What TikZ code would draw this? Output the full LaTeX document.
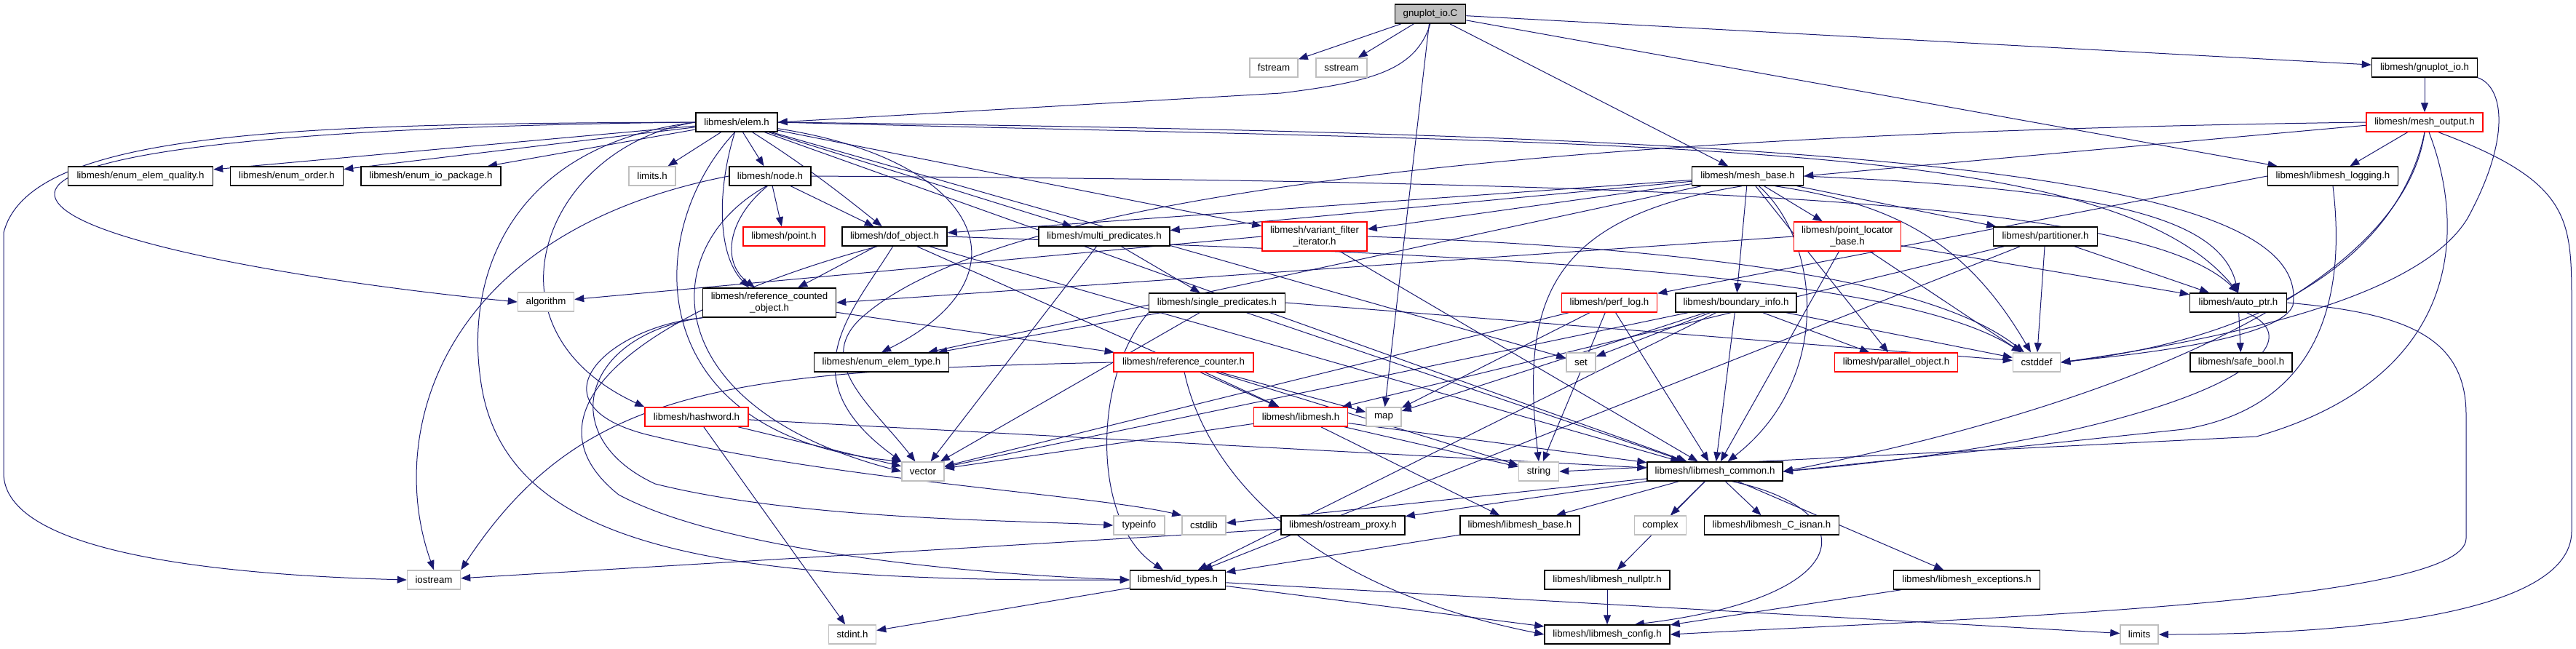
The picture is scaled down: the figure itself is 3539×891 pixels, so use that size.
\documentclass[tikz,border=0pt]{standalone}
\usepackage{fontspec}
\setmainfont{Liberation Sans}
\usetikzlibrary{arrows.meta}
\pgfdeclarelayer{edges}
\pgfsetlayers{edges,main}
\definecolor{edgec}{HTML}{191970}
\definecolor{grayb}{HTML}{BFBFBF}
\tikzset{
  box/.style={draw=black, line width=0.75pt, fill=white, minimum height=13pt, inner xsep=0pt, inner ysep=0pt, font=\fontsize{6.65pt}{7.6pt}\selectfont, align=center},
  rbox/.style={box, draw=red},
  gbox/.style={box, draw=grayb},
  rootb/.style={box, fill=grayb},
  tallbox/.style={minimum height=20pt},
  e/.style={draw=edgec, line width=0.5pt, -{Triangle[length=6.5pt,width=5pt]}}
}
\begin{document}
\begin{tikzpicture}[x=0.5pt,y=-0.5pt]
\useasboundingbox (0,0) rectangle (3539,891);
% nodes
\node[rootb, minimum width=48.5pt] (root) at (1965,19) {gnuplot\_io.C};
\node[gbox, minimum width=33pt] (fstream) at (1750,93) {fstream};
\node[gbox, minimum width=35pt] (sstream) at (1843,93) {sstream};
\node[box, minimum width=72.5pt] (gnuploth) at (3331,93) {libmesh/gnuplot\_io.h};
\node[box, minimum width=56pt] (elem) at (1012,168) {libmesh/elem.h};
\node[rbox, minimum width=80pt] (meshout) at (3331,168) {libmesh/mesh\_output.h};
\node[box, minimum width=99.5pt] (eq) at (193,242) {libmesh/enum\_elem\_quality.h};
\node[box, minimum width=77.5pt] (eo) at (394,242) {libmesh/enum\_order.h};
\node[box, minimum width=96pt] (eio) at (592,242) {libmesh/enum\_io\_package.h};
\node[gbox, minimum width=32pt] (limitsh) at (896,242) {limits.h};
\node[box, minimum width=56pt] (node) at (1058,242) {libmesh/node.h};
\node[box, minimum width=76.5pt] (meshbase) at (2401,242) {libmesh/mesh\_base.h};
\node[box, minimum width=89.5pt] (logging) at (3205,242) {libmesh/libmesh\_logging.h};
\node[rbox, minimum width=56pt] (point) at (1077,325) {libmesh/point.h};
\node[box, minimum width=72pt] (dof) at (1229,325) {libmesh/dof\_object.h};
\node[box, minimum width=90pt] (multi) at (1517,325) {libmesh/multi\_predicates.h};
\node[rbox, tallbox, minimum width=72pt] (variant) at (1806,325) {libmesh/variant\_filter\\\_iterator.h};
\node[rbox, tallbox, minimum width=73.5pt] (ploc) at (2538,325) {libmesh/point\_locator\\\_base.h};
\node[box, minimum width=71.5pt] (part) at (2810,325) {libmesh/partitioner.h};
\node[gbox, minimum width=38.5pt] (algorithm) at (750,415) {algorithm};
\node[box, tallbox, minimum width=91.5pt] (rco) at (1057,416) {libmesh/reference\_counted\\\_object.h};
\node[box, minimum width=93.5pt] (single) at (1672,416) {libmesh/single\_predicates.h};
\node[rbox, minimum width=65.5pt] (perf) at (2211,416) {libmesh/perf\_log.h};
\node[box, minimum width=83pt] (binfo) at (2385,416) {libmesh/boundary\_info.h};
\node[box, minimum width=66.5pt] (autoptr) at (3075,416) {libmesh/auto\_ptr.h};
\node[box, minimum width=92.5pt] (etype) at (1211,498) {libmesh/enum\_elem\_type.h};
\node[rbox, minimum width=96pt] (refcounter) at (1626,498) {libmesh/reference\_counter.h};
\node[gbox, minimum width=20pt] (set) at (2172,498) {set};
\node[rbox, minimum width=84.5pt] (parobj) at (2605,498) {libmesh/parallel\_object.h};
\node[gbox, minimum width=32.5pt] (cstddef) at (2798,498) {cstddef};
\node[box, minimum width=70pt] (safebool) at (3079,498) {libmesh/safe\_bool.h};
\node[rbox, minimum width=71pt] (hashword) at (957,573) {libmesh/hashword.h};
\node[rbox, minimum width=64.5pt] (libmesh) at (1787,573) {libmesh/libmesh.h};
\node[gbox, minimum width=24pt] (map) at (1901,573) {map};
\node[gbox, minimum width=29pt] (vector) at (1268,648) {vector};
\node[gbox, minimum width=27.5pt] (string) at (2114,648) {string};
\node[box, minimum width=93pt] (common) at (2356,648) {libmesh/libmesh\_common.h};
\node[gbox, minimum width=35pt] (typeinfo) at (1565,722) {typeinfo};
\node[gbox, minimum width=30pt] (cstdlib) at (1654,722) {cstdlib};
\node[box, minimum width=85pt] (ostream) at (1845,722) {libmesh/ostream\_proxy.h};
\node[box, minimum width=82pt] (lbase) at (2088,722) {libmesh/libmesh\_base.h};
\node[gbox, minimum width=35.5pt] (complex) at (2281,722) {complex};
\node[box, minimum width=92.5pt] (isnan) at (2434,722) {libmesh/libmesh\_C\_isnan.h};
\node[gbox, minimum width=36.5pt] (iostream) at (596,797) {iostream};
\node[box, minimum width=65.5pt] (idtypes) at (1618,797) {libmesh/id\_types.h};
\node[box, minimum width=86pt] (nullptr) at (2208,797) {libmesh/libmesh\_nullptr.h};
\node[box, minimum width=100.5pt] (exceptions) at (2702,797) {libmesh/libmesh\_exceptions.h};
\node[gbox, minimum width=32.5pt] (stdint) at (1171,872) {stdint.h};
\node[box, minimum width=86pt] (config) at (2208,872) {libmesh/libmesh\_config.h};
\node[gbox, minimum width=26pt] (limits) at (2939,872) {limits};
% edges
\begin{pgfonlayer}{edges}
% root
\draw[e] (root) -- (fstream);
\draw[e] (root) -- (sstream);
\draw[e] (root.south) .. controls (1945,95) and (1890,112) .. (1760,128) -- (elem.east);
\draw[e] (root) -- (map);
\draw[e] (root) -- (meshbase);
\draw[e] (root) -- (logging);
\draw[e] (root) -- (gnuploth);
% gnuplot_io.h
\draw[e] (gnuploth) -- (meshout);
\draw[e] (gnuploth.south east) .. controls (3440,120) and (3450,190) .. (3390,300) .. controls (3330,400) and (3100,460) .. (cstddef.east);
% mesh_output
\draw[e] (meshout.183) -- (meshbase.east);
\draw[e] (meshout) -- (logging);
\draw[e] (meshout.west) .. controls (2000,185) and (1350,280) .. (1180,440) .. controls (1120,500) and (1200,560) .. (vector);
\draw[e] (meshout.south) .. controls (3300,330) and (3150,460) .. (cstddef.east);
\draw[e] (meshout.south) .. controls (3300,400) and (2900,560) .. (common.east);
\draw[e] ([xshift=3pt]meshout.south) .. controls (3390,320) and (3380,520) .. (3100,600) -- (string.east);
\draw[e] ([xshift=9.5pt]meshout.south) .. controls (3533,250) and (3533,300) .. (3533,420) -- (3533,730) .. controls (3533,850) and (3200,872) .. (limits.east);
% libmesh_logging
\draw[e] (logging.west) -- (perf);
\draw[e] (logging.south) .. controls (3225,420) and (3180,560) .. (3000,590) -- (common.east);
% elem
\draw[e] (elem) -- (eq);
\draw[e] (elem) -- (eo);
\draw[e] (elem) -- (eio);
\draw[e] (elem) -- (limitsh);
\draw[e] (elem) -- (node);
\draw[e] (elem) .. controls (1110,230) and (1160,270) .. (dof);
\draw[e] (elem.-100) .. controls (985,260) and (985,350) .. ([xshift=-14pt]rco.north);
\draw[e] (elem) -- (multi);
\draw[e] (elem) -- (variant);
\draw[e] (elem) .. controls (1350,220) and (1420,380) .. (etype.north);
\draw[e] (elem.west) .. controls (700,200) and (640,380) .. (660,520) .. controls (690,760) and (1000,800) .. (idtypes.west);
\draw[e] (elem) -- (common);
\draw[e] (elem.east) .. controls (2300,200) and (2900,190) .. (autoptr.north);
\draw[e] (elem.west) .. controls (750,200) and (650,450) .. (hashword.north west);
\draw[e] (elem.west) .. controls (300,175) and (80,220) .. (75,265) .. controls (70,330) and (450,390) .. (algorithm.west);
\draw[e] (elem.east) .. controls (2500,185) and (3180,230) .. (3150,420) .. controls (3130,470) and (2900,490) .. (cstddef.east);
\draw[e] (elem.west) .. controls (400,170) and (40,180) .. (5,320) -- (5,650) .. controls (5,760) and (300,790) .. (iostream.west);
\draw[e] (elem) -- (set);
\draw[e] (elem.-100) .. controls (880,320) and (880,600) .. (vector.north west);
% node
\draw[e] (node) -- (point);
\draw[e] (node) -- (dof);
\draw[e] (node.-105) .. controls (1000,300) and (990,360) .. ([xshift=-10pt]rco.north);
\draw[e] (node.east) .. controls (2400,250) and (2950,280) .. (autoptr.north);
\draw[e] (node.west) .. controls (600,320) and (530,600) .. (iostream.north);
\draw[e] (node.-110) .. controls (900,340) and (900,560) .. (vector.west);
% mesh_base
\draw[e] (meshbase) -- (dof);
\draw[e] (meshbase) -- (multi);
\draw[e] (meshbase) -- (variant);
\draw[e] (meshbase) -- (ploc);
\draw[e] (meshbase) -- (part);
\draw[e] (meshbase.east) .. controls (2900,260) and (3050,300) .. (autoptr.north);
\draw[e] (meshbase) -- (binfo);
\draw[e] (meshbase) -- (etype);
\draw[e] (meshbase) .. controls (2500,330) and (2520,520) .. (common);
\draw[e] (meshbase) -- (parobj);
\draw[e] (meshbase.-20) .. controls (2600,280) and (2700,330) .. (cstddef);
\draw[e] (meshbase.-120) .. controls (2120,300) and (2090,420) .. (string.north);
% dof_object
\draw[e] (dof.-150) .. controls (900,420) and (700,560) .. (850,680) .. controls (1000,760) and (1350,790) .. (idtypes.west);
\draw[e] (dof) -- (common);
\draw[e] (dof) -- (rco);
\draw[e] (dof) -- (libmesh);
\draw[e] (dof.east) .. controls (2000,350) and (2600,370) .. (cstddef);
\draw[e] (dof.-100) .. controls (1170,430) and (1080,520) .. (vector.north west);
% multi_predicates
\draw[e] (multi) -- (single);
\draw[e] (multi) -- (vector);
% variant_filter_iterator
\draw[e] (variant.west) -- (algorithm);
\draw[e] (variant.east) .. controls (2300,340) and (2650,380) .. (cstddef);
\draw[e] (variant) -- (common);
% point_locator_base
\draw[e] (ploc.west) -- (rco.east);
\draw[e] (ploc) -- (common);
\draw[e] (ploc) -- (autoptr);
\draw[e] (ploc) -- (cstddef);
% partitioner
\draw[e] (part) -- (libmesh);
\draw[e] (part) -- (autoptr);
\draw[e] (part) -- (idtypes);
\draw[e] (part) -- (cstddef);
% reference_counted_object
\draw[e] (rco) -- (refcounter);
\draw[e] (rco.south west) .. controls (800,460) and (760,600) .. (900,665) .. controls (1100,715) and (1400,715) .. (typeinfo.west);
\draw[e] (rco.south west) .. controls (830,450) and (720,560) .. (900,600) .. controls (1150,660) and (1500,680) .. (cstdlib.north west);
% reference_counter
\draw[e] (refcounter) -- (libmesh);
\draw[e] (refcounter) -- (map);
\draw[e] (refcounter) -- (string);
\draw[e] (refcounter.west) .. controls (1000,510) and (800,530) .. (iostream.north east);
\draw[e] (refcounter.-85) .. controls (1650,620) and (1760,800) .. (config.west);
% libmesh.h
\draw[e] (libmesh) -- (lbase);
\draw[e] (libmesh) -- (string);
\draw[e] (libmesh) -- (common);
\draw[e] (libmesh) -- (vector);
% single_predicates
\draw[e] (single.east) -- (cstddef);
\draw[e] (single) -- (etype);
\draw[e] (single.south west) .. controls (1500,520) and (1500,720) .. ([xshift=-10pt]idtypes.north);
\draw[e] (single) -- (vector);
\draw[e] (single) -- (common);
% boundary_info
\draw[e] (binfo) -- (common);
\draw[e] (binfo) -- (idtypes);
\draw[e] (binfo) -- (parobj);
\draw[e] (binfo) -- (cstddef);
\draw[e] (binfo) -- (map);
\draw[e] (binfo) -- (set);
\draw[e] (binfo) -- (vector);
% perf_log
\draw[e] (perf) -- (vector);
\draw[e] (perf) -- (map);
\draw[e] (perf) -- (string);
\draw[e] (perf) -- (common);
% auto_ptr
\draw[e] (autoptr) -- (safebool);
\draw[e] (autoptr.-50) .. controls (3200,480) and (3000,600) .. (common.east);
\draw[e] (autoptr.east) .. controls (3300,430) and (3388,460) .. (3388,570) -- (3388,740) .. controls (3388,830) and (2700,850) .. (config.east);
% hashword
\draw[e] (hashword) -- (stdint);
\draw[e] (hashword) -- (vector);
\draw[e] (hashword) -- (common);
% id_types
\draw[e] (idtypes) -- (stdint);
\draw[e] (idtypes) -- (config);
\draw[e] (idtypes) -- (limits);
% libmesh_base
\draw[e] (lbase) -- (idtypes);
% libmesh_common
\draw[e] (common) -- (ostream);
\draw[e] (common) -- (lbase);
\draw[e] (common) -- (complex);
\draw[e] (common) -- (isnan);
\draw[e] (common) -- (nullptr);
\draw[e] (common) -- (exceptions);
\draw[e] (common) -- (cstdlib);
\draw[e] (common.-30) .. controls (2560,700) and (2560,820) .. (config.20);
% others
\draw[e] (ostream) -- (iostream);
\draw[e] (nullptr) -- (config);
\draw[e] (exceptions) -- (config);
\end{pgfonlayer}
\end{tikzpicture}
\end{document}
